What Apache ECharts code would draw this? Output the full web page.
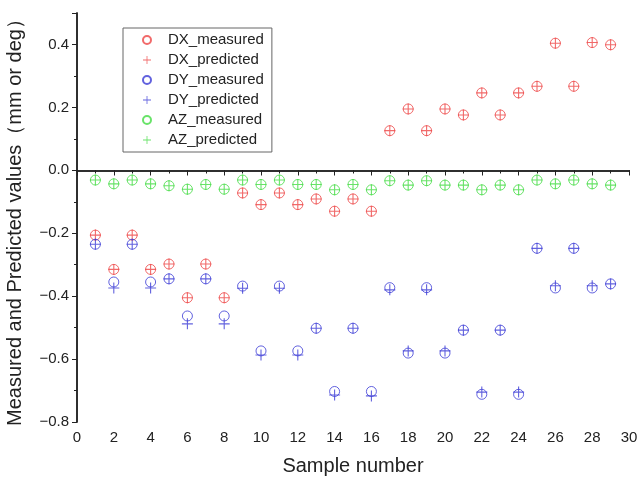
<!DOCTYPE html>
<html>
<head>
<meta charset="utf-8">
<script src="https://cdn.jsdelivr.net/npm/echarts@6/dist/echarts.min.js"></script>
<style>
  html, body { margin: 0; padding: 0; background: #fff; }
  #main { width: 638px; height: 479px; }
</style>
</head>
<body>
<div id="main"></div>
<script>
var samples = [1,2,3,4,5,6,7,8,9,10,11,12,13,14,15,16,17,18,19,20,21,22,23,24,25,26,27,28,29];

var dxMeasured = [-0.206,-0.315,-0.206,-0.315,-0.298,-0.405,-0.298,-0.405,-0.072,-0.109,-0.072,-0.109,-0.091,-0.130,-0.091,-0.130,
  0.126,0.195,0.126,0.195,0.176,0.246,0.176,0.246,0.267,0.404,0.267,0.406,0.399];
var dxPredicted = [-0.206,-0.315,-0.206,-0.315,-0.298,-0.405,-0.298,-0.405,-0.072,-0.109,-0.072,-0.109,-0.091,-0.130,-0.091,-0.130,
  0.126,0.195,0.126,0.195,0.176,0.246,0.176,0.246,0.267,0.404,0.267,0.406,0.399];

var dyMeasured = [-0.235,-0.355,-0.235,-0.355,-0.345,-0.463,-0.345,-0.463,-0.368,-0.574,-0.368,-0.574,-0.502,-0.703,-0.502,-0.703,
  -0.373,-0.581,-0.373,-0.581,-0.508,-0.712,-0.508,-0.712,-0.248,-0.374,-0.248,-0.374,-0.361];
var dyPredicted = [-0.235,-0.374,-0.235,-0.374,-0.345,-0.488,-0.345,-0.488,-0.375,-0.587,-0.375,-0.587,-0.502,-0.714,-0.502,-0.717,
  -0.380,-0.574,-0.380,-0.574,-0.508,-0.705,-0.508,-0.705,-0.248,-0.367,-0.248,-0.367,-0.361];

var azMeasured = [-0.031,-0.043,-0.031,-0.043,-0.049,-0.060,-0.045,-0.060,-0.031,-0.045,-0.031,-0.045,-0.045,-0.062,-0.045,-0.062,
  -0.033,-0.047,-0.033,-0.047,-0.047,-0.062,-0.047,-0.062,-0.031,-0.043,-0.031,-0.043,-0.047];
var azPredicted = azMeasured.slice();

var seriesNames = ['DX_measured','DX_predicted','DY_measured','DY_predicted','AZ_measured','AZ_predicted'];

var red = '#ee4545', blue = '#3b3bd6', green = '#44dc44';
var plus = 'path://M9,0H11V9H20V11H11V20H9V11H0V9H9Z';
var fontFam = 'Liberation Sans, Arial, sans-serif';

function pairs(ys) {
  return samples.map(function (x, i) { return [x, ys[i]]; });
}
function circleSeries(name, ys, color) {
  return {
    name: name, type: 'scatter', data: pairs(ys),
    symbol: 'circle', symbolSize: 10,
    itemStyle: { color: 'rgba(0,0,0,0)', borderColor: color, borderWidth: 1 }
  };
}
function plusSeries(name, ys, color) {
  return {
    name: name, type: 'scatter', data: pairs(ys),
    symbol: plus, symbolSize: 11,
    itemStyle: { color: color }
  };
}

var myChart = echarts.init(document.getElementById('main'));

var option = {
  backgroundColor: '#fff',
  animation: false,
  textStyle: { fontFamily: fontFam },
  grid: { left: 77, right: 9, top: 13, bottom: 57, outerBoundsMode: 'none', containLabel: false },
  legend: {
    orient: 'vertical',
    left: 123, top: 28,
    padding: [2, 8, 2, 19],
    borderColor: '#666', borderWidth: 1,
    itemWidth: 32, itemHeight: 8, itemGap: 0,
    textStyle: { fontSize: 15, lineHeight: 20, color: '#222', fontFamily: fontFam },
    data: seriesNames
  },
  xAxis: [{
    type: 'value', min: 0, max: 30, interval: 2,
    name: 'Sample number', nameLocation: 'middle', nameGap: 34,
    nameTextStyle: { fontSize: 20, color: '#222' },
    axisLine: { lineStyle: { color: '#222', width: 1.5 } },
    axisTick: { inside: false, length: 5, lineStyle: { color: '#222' } },
    minorTick: { show: true, splitNumber: 2, length: 3, lineStyle: { color: '#222' } },
    axisLabel: { fontSize: 15, color: '#222', margin: 8 },
    splitLine: { show: false }
  }, {
    type: 'value', min: 0, max: 30, interval: 2, position: 'top',
    axisLine: { show: true, lineStyle: { color: '#222', width: 1.5 } },
    axisTick: { inside: true, length: 5, lineStyle: { color: '#222' } },
    minorTick: { show: true, splitNumber: 2, length: 3, lineStyle: { color: '#222' } },
    axisLabel: { show: false },
    splitLine: { show: false }
  }],
  yAxis: [{
    type: 'value', min: -0.8, max: 0.5, interval: 0.2,
    name: 'Measured and Predicted values（mm or deg）', nameLocation: 'middle', nameGap: 52,
    nameTextStyle: { fontSize: 20, color: '#222' },
    axisLine: { show: true, lineStyle: { color: '#222', width: 1.5 } },
    axisTick: { inside: false, length: 5, lineStyle: { color: '#222' } },
    minorTick: { show: true, splitNumber: 2, length: 3, lineStyle: { color: '#222' } },
    axisLabel: { fontSize: 15, color: '#222', margin: 8, showMaxLabel: false,
      formatter: function (v) { return v.toFixed(1).replace('-', '\u2212'); } },
    splitLine: { show: false }
  }, {
    type: 'value', min: -0.8, max: 0.5, interval: 0.2, position: 'right',
    axisLine: { show: true, lineStyle: { color: '#222', width: 1.5 } },
    axisTick: { inside: true, length: 5, lineStyle: { color: '#222' } },
    minorTick: { show: true, splitNumber: 2, length: 3, lineStyle: { color: '#222' } },
    axisLabel: { show: false },
    splitLine: { show: false }
  }],
  series: [
    circleSeries('DX_measured', dxMeasured, red),
    plusSeries('DX_predicted', dxPredicted, red),
    circleSeries('DY_measured', dyMeasured, blue),
    plusSeries('DY_predicted', dyPredicted, blue),
    circleSeries('AZ_measured', azMeasured, green),
    plusSeries('AZ_predicted', azPredicted, green)
  ]
};
myChart.setOption(option);
</script>
</body>
</html>
